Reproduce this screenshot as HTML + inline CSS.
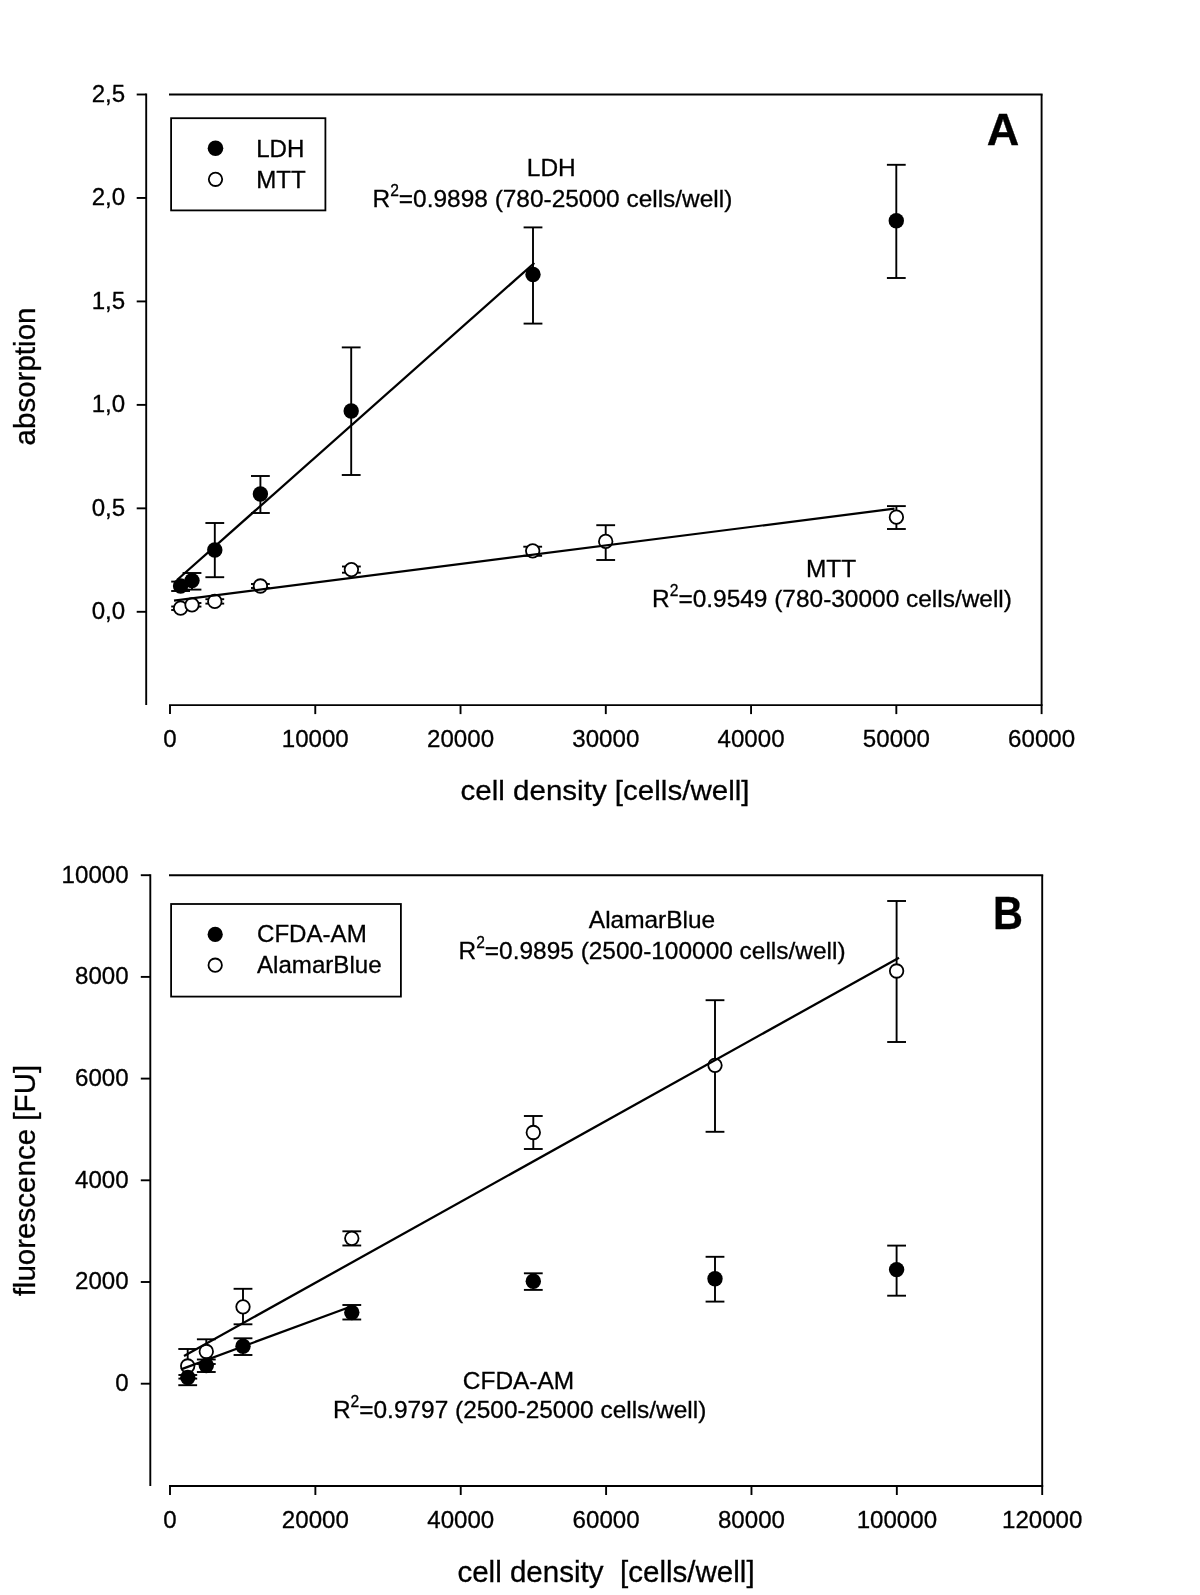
<!DOCTYPE html>
<html lang="en">
<head>
<meta charset="utf-8">
<title>Figure</title>
<style>
html, body { margin: 0; padding: 0; background: #ffffff; }
body { width: 1200px; height: 1595px; overflow: hidden; font-family: "Liberation Sans", sans-serif; }
svg { display: block; filter: grayscale(1) blur(0.35px); }
svg text { font-family: "Liberation Sans", sans-serif; fill: #000; stroke: #000; stroke-width: 0.3px; }
</style>
</head>
<body>
<svg width="1200" height="1595" viewBox="0 0 1200 1595">
<rect x="0" y="0" width="1200" height="1595" fill="#ffffff"/>
<line x1="169.00" y1="94.50" x2="1042.60" y2="94.50" stroke="#000" stroke-width="1.9" stroke-linecap="butt"/>
<line x1="1041.60" y1="94.50" x2="1041.60" y2="705.10" stroke="#000" stroke-width="1.9" stroke-linecap="butt"/>
<line x1="169.00" y1="705.10" x2="1042.60" y2="705.10" stroke="#000" stroke-width="1.9" stroke-linecap="butt"/>
<line x1="146.20" y1="93.50" x2="146.20" y2="705.10" stroke="#000" stroke-width="1.9" stroke-linecap="butt"/>
<line x1="136.70" y1="611.80" x2="146.20" y2="611.80" stroke="#000" stroke-width="1.9" stroke-linecap="butt"/>
<text transform="translate(125.20,619.20) scale(1.0,1.0)" font-size="24.1" text-anchor="end" font-weight="normal" >0,0</text>
<line x1="136.70" y1="508.34" x2="146.20" y2="508.34" stroke="#000" stroke-width="1.9" stroke-linecap="butt"/>
<text transform="translate(125.20,515.74) scale(1.0,1.0)" font-size="24.1" text-anchor="end" font-weight="normal" >0,5</text>
<line x1="136.70" y1="404.88" x2="146.20" y2="404.88" stroke="#000" stroke-width="1.9" stroke-linecap="butt"/>
<text transform="translate(125.20,412.28) scale(1.0,1.0)" font-size="24.1" text-anchor="end" font-weight="normal" >1,0</text>
<line x1="136.70" y1="301.42" x2="146.20" y2="301.42" stroke="#000" stroke-width="1.9" stroke-linecap="butt"/>
<text transform="translate(125.20,308.82) scale(1.0,1.0)" font-size="24.1" text-anchor="end" font-weight="normal" >1,5</text>
<line x1="136.70" y1="197.96" x2="146.20" y2="197.96" stroke="#000" stroke-width="1.9" stroke-linecap="butt"/>
<text transform="translate(125.20,205.36) scale(1.0,1.0)" font-size="24.1" text-anchor="end" font-weight="normal" >2,0</text>
<line x1="136.70" y1="94.50" x2="146.20" y2="94.50" stroke="#000" stroke-width="1.9" stroke-linecap="butt"/>
<text transform="translate(125.20,101.90) scale(1.0,1.0)" font-size="24.1" text-anchor="end" font-weight="normal" >2,5</text>
<line x1="170.00" y1="705.10" x2="170.00" y2="714.10" stroke="#000" stroke-width="1.9" stroke-linecap="butt"/>
<text transform="translate(170.00,747.30) scale(1.0,1.0)" font-size="24.1" text-anchor="middle" font-weight="normal" >0</text>
<line x1="315.27" y1="705.10" x2="315.27" y2="714.10" stroke="#000" stroke-width="1.9" stroke-linecap="butt"/>
<text transform="translate(315.27,747.30) scale(1.0,1.0)" font-size="24.1" text-anchor="middle" font-weight="normal" >10000</text>
<line x1="460.53" y1="705.10" x2="460.53" y2="714.10" stroke="#000" stroke-width="1.9" stroke-linecap="butt"/>
<text transform="translate(460.53,747.30) scale(1.0,1.0)" font-size="24.1" text-anchor="middle" font-weight="normal" >20000</text>
<line x1="605.80" y1="705.10" x2="605.80" y2="714.10" stroke="#000" stroke-width="1.9" stroke-linecap="butt"/>
<text transform="translate(605.80,747.30) scale(1.0,1.0)" font-size="24.1" text-anchor="middle" font-weight="normal" >30000</text>
<line x1="751.07" y1="705.10" x2="751.07" y2="714.10" stroke="#000" stroke-width="1.9" stroke-linecap="butt"/>
<text transform="translate(751.07,747.30) scale(1.0,1.0)" font-size="24.1" text-anchor="middle" font-weight="normal" >40000</text>
<line x1="896.33" y1="705.10" x2="896.33" y2="714.10" stroke="#000" stroke-width="1.9" stroke-linecap="butt"/>
<text transform="translate(896.33,747.30) scale(1.0,1.0)" font-size="24.1" text-anchor="middle" font-weight="normal" >50000</text>
<line x1="1041.60" y1="705.10" x2="1041.60" y2="714.10" stroke="#000" stroke-width="1.9" stroke-linecap="butt"/>
<text transform="translate(1041.60,747.30) scale(1.0,1.0)" font-size="24.1" text-anchor="middle" font-weight="normal" >60000</text>
<text transform="translate(605.00,800.40) scale(1.0,0.95)" font-size="29.55" text-anchor="middle" font-weight="normal" >cell density [cells/well]</text>
<text transform="translate(35.3,376.5) rotate(-90)" font-size="29.55" text-anchor="middle">absorption</text>
<rect x="171.1" y="118.2" width="154.3" height="92.2" fill="#fff" stroke="#000" stroke-width="1.8"/>
<circle cx="215.50" cy="148.30" r="7.8" fill="#000"/>
<circle cx="215.50" cy="179.30" r="6.7" fill="#fff" stroke="#000" stroke-width="1.8"/>
<text transform="translate(256.20,156.80) scale(1.0,1.0)" font-size="24.1" text-anchor="start" font-weight="normal" >LDH</text>
<text transform="translate(256.20,187.60) scale(1.0,1.0)" font-size="24.1" text-anchor="start" font-weight="normal" >MTT</text>
<text transform="translate(1003.00,145.00) scale(1.06,1.06)" font-size="42.5" text-anchor="middle" font-weight="bold" >A</text>
<text transform="translate(551.30,176.40) scale(1.0,1.0)" font-size="24.45" text-anchor="middle" font-weight="normal" >LDH</text>
<text transform="translate(552.40,207.20) scale(1.0,1.0)" font-size="24.45" text-anchor="middle">R<tspan font-size="15.6" dy="-11.1">2</tspan><tspan dy="11.1">=0.9898 (780-25000 cells/well)</tspan></text>
<text transform="translate(831.00,576.70) scale(1.0,1.0)" font-size="24.45" text-anchor="middle" font-weight="normal" >MTT</text>
<text transform="translate(832.00,607.20) scale(1.0,1.0)" font-size="24.45" text-anchor="middle">R<tspan font-size="15.6" dy="-11.1">2</tspan><tspan dy="11.1">=0.9549 (780-30000 cells/well)</tspan></text>
<line x1="180.60" y1="606.50" x2="180.60" y2="610.00" stroke="#000" stroke-width="1.9" stroke-linecap="butt"/>
<line x1="171.20" y1="606.50" x2="190.00" y2="606.50" stroke="#000" stroke-width="1.9" stroke-linecap="butt"/>
<line x1="171.20" y1="610.00" x2="190.00" y2="610.00" stroke="#000" stroke-width="1.9" stroke-linecap="butt"/>
<line x1="192.00" y1="603.00" x2="192.00" y2="606.60" stroke="#000" stroke-width="1.9" stroke-linecap="butt"/>
<line x1="182.60" y1="603.00" x2="201.40" y2="603.00" stroke="#000" stroke-width="1.9" stroke-linecap="butt"/>
<line x1="182.60" y1="606.60" x2="201.40" y2="606.60" stroke="#000" stroke-width="1.9" stroke-linecap="butt"/>
<line x1="214.80" y1="599.20" x2="214.80" y2="603.60" stroke="#000" stroke-width="1.9" stroke-linecap="butt"/>
<line x1="205.40" y1="599.20" x2="224.20" y2="599.20" stroke="#000" stroke-width="1.9" stroke-linecap="butt"/>
<line x1="205.40" y1="603.60" x2="224.20" y2="603.60" stroke="#000" stroke-width="1.9" stroke-linecap="butt"/>
<line x1="260.40" y1="584.00" x2="260.40" y2="588.00" stroke="#000" stroke-width="1.9" stroke-linecap="butt"/>
<line x1="251.00" y1="584.00" x2="269.80" y2="584.00" stroke="#000" stroke-width="1.9" stroke-linecap="butt"/>
<line x1="251.00" y1="588.00" x2="269.80" y2="588.00" stroke="#000" stroke-width="1.9" stroke-linecap="butt"/>
<line x1="351.40" y1="566.50" x2="351.40" y2="572.70" stroke="#000" stroke-width="1.9" stroke-linecap="butt"/>
<line x1="342.00" y1="566.50" x2="360.80" y2="566.50" stroke="#000" stroke-width="1.9" stroke-linecap="butt"/>
<line x1="342.00" y1="572.70" x2="360.80" y2="572.70" stroke="#000" stroke-width="1.9" stroke-linecap="butt"/>
<line x1="532.70" y1="546.70" x2="532.70" y2="555.80" stroke="#000" stroke-width="1.9" stroke-linecap="butt"/>
<line x1="523.30" y1="546.70" x2="542.10" y2="546.70" stroke="#000" stroke-width="1.9" stroke-linecap="butt"/>
<line x1="523.30" y1="555.80" x2="542.10" y2="555.80" stroke="#000" stroke-width="1.9" stroke-linecap="butt"/>
<line x1="605.70" y1="525.20" x2="605.70" y2="560.00" stroke="#000" stroke-width="1.9" stroke-linecap="butt"/>
<line x1="596.30" y1="525.20" x2="615.10" y2="525.20" stroke="#000" stroke-width="1.9" stroke-linecap="butt"/>
<line x1="596.30" y1="560.00" x2="615.10" y2="560.00" stroke="#000" stroke-width="1.9" stroke-linecap="butt"/>
<line x1="896.40" y1="506.10" x2="896.40" y2="529.00" stroke="#000" stroke-width="1.9" stroke-linecap="butt"/>
<line x1="887.00" y1="506.10" x2="905.80" y2="506.10" stroke="#000" stroke-width="1.9" stroke-linecap="butt"/>
<line x1="887.00" y1="529.00" x2="905.80" y2="529.00" stroke="#000" stroke-width="1.9" stroke-linecap="butt"/>
<circle cx="180.60" cy="608.20" r="6.75" fill="#fff" stroke="#000" stroke-width="1.8"/>
<circle cx="192.00" cy="604.80" r="6.75" fill="#fff" stroke="#000" stroke-width="1.8"/>
<circle cx="214.80" cy="601.40" r="6.75" fill="#fff" stroke="#000" stroke-width="1.8"/>
<circle cx="260.40" cy="586.00" r="6.75" fill="#fff" stroke="#000" stroke-width="1.8"/>
<circle cx="351.40" cy="569.60" r="6.75" fill="#fff" stroke="#000" stroke-width="1.8"/>
<circle cx="532.70" cy="550.80" r="6.75" fill="#fff" stroke="#000" stroke-width="1.8"/>
<circle cx="605.70" cy="541.40" r="6.75" fill="#fff" stroke="#000" stroke-width="1.8"/>
<circle cx="896.40" cy="517.20" r="6.75" fill="#fff" stroke="#000" stroke-width="1.8"/>
<line x1="174.00" y1="600.60" x2="894.50" y2="508.60" stroke="#000" stroke-width="2.2" stroke-linecap="butt"/>
<line x1="180.60" y1="581.60" x2="180.60" y2="591.00" stroke="#000" stroke-width="1.9" stroke-linecap="butt"/>
<line x1="171.20" y1="581.60" x2="190.00" y2="581.60" stroke="#000" stroke-width="1.9" stroke-linecap="butt"/>
<line x1="171.20" y1="591.00" x2="190.00" y2="591.00" stroke="#000" stroke-width="1.9" stroke-linecap="butt"/>
<line x1="192.00" y1="573.00" x2="192.00" y2="589.60" stroke="#000" stroke-width="1.9" stroke-linecap="butt"/>
<line x1="182.60" y1="573.00" x2="201.40" y2="573.00" stroke="#000" stroke-width="1.9" stroke-linecap="butt"/>
<line x1="182.60" y1="589.60" x2="201.40" y2="589.60" stroke="#000" stroke-width="1.9" stroke-linecap="butt"/>
<line x1="214.80" y1="523.00" x2="214.80" y2="577.20" stroke="#000" stroke-width="1.9" stroke-linecap="butt"/>
<line x1="205.40" y1="523.00" x2="224.20" y2="523.00" stroke="#000" stroke-width="1.9" stroke-linecap="butt"/>
<line x1="205.40" y1="577.20" x2="224.20" y2="577.20" stroke="#000" stroke-width="1.9" stroke-linecap="butt"/>
<line x1="260.40" y1="476.00" x2="260.40" y2="513.00" stroke="#000" stroke-width="1.9" stroke-linecap="butt"/>
<line x1="251.00" y1="476.00" x2="269.80" y2="476.00" stroke="#000" stroke-width="1.9" stroke-linecap="butt"/>
<line x1="251.00" y1="513.00" x2="269.80" y2="513.00" stroke="#000" stroke-width="1.9" stroke-linecap="butt"/>
<line x1="351.20" y1="347.40" x2="351.20" y2="475.00" stroke="#000" stroke-width="1.9" stroke-linecap="butt"/>
<line x1="341.80" y1="347.40" x2="360.60" y2="347.40" stroke="#000" stroke-width="1.9" stroke-linecap="butt"/>
<line x1="341.80" y1="475.00" x2="360.60" y2="475.00" stroke="#000" stroke-width="1.9" stroke-linecap="butt"/>
<line x1="533.00" y1="227.40" x2="533.00" y2="323.60" stroke="#000" stroke-width="1.9" stroke-linecap="butt"/>
<line x1="523.60" y1="227.40" x2="542.40" y2="227.40" stroke="#000" stroke-width="1.9" stroke-linecap="butt"/>
<line x1="523.60" y1="323.60" x2="542.40" y2="323.60" stroke="#000" stroke-width="1.9" stroke-linecap="butt"/>
<line x1="896.30" y1="164.80" x2="896.30" y2="278.00" stroke="#000" stroke-width="1.9" stroke-linecap="butt"/>
<line x1="886.90" y1="164.80" x2="905.70" y2="164.80" stroke="#000" stroke-width="1.9" stroke-linecap="butt"/>
<line x1="886.90" y1="278.00" x2="905.70" y2="278.00" stroke="#000" stroke-width="1.9" stroke-linecap="butt"/>
<circle cx="180.60" cy="586.00" r="7.7" fill="#000"/>
<circle cx="192.00" cy="580.60" r="7.7" fill="#000"/>
<circle cx="214.80" cy="550.00" r="7.7" fill="#000"/>
<circle cx="260.40" cy="494.00" r="7.7" fill="#000"/>
<circle cx="351.20" cy="411.00" r="7.7" fill="#000"/>
<circle cx="533.00" cy="274.50" r="7.7" fill="#000"/>
<circle cx="896.30" cy="220.70" r="7.7" fill="#000"/>
<line x1="177.00" y1="580.00" x2="534.30" y2="263.00" stroke="#000" stroke-width="2.3" stroke-linecap="butt"/>
<line x1="169.00" y1="875.20" x2="1043.20" y2="875.20" stroke="#000" stroke-width="1.9" stroke-linecap="butt"/>
<line x1="1042.20" y1="875.20" x2="1042.20" y2="1486.00" stroke="#000" stroke-width="1.9" stroke-linecap="butt"/>
<line x1="169.00" y1="1486.00" x2="1043.20" y2="1486.00" stroke="#000" stroke-width="1.9" stroke-linecap="butt"/>
<line x1="150.30" y1="874.20" x2="150.30" y2="1486.00" stroke="#000" stroke-width="1.9" stroke-linecap="butt"/>
<line x1="140.80" y1="1383.70" x2="150.30" y2="1383.70" stroke="#000" stroke-width="1.9" stroke-linecap="butt"/>
<text transform="translate(128.60,1391.10) scale(1.0,1.0)" font-size="24.1" text-anchor="end" font-weight="normal" >0</text>
<line x1="140.80" y1="1282.00" x2="150.30" y2="1282.00" stroke="#000" stroke-width="1.9" stroke-linecap="butt"/>
<text transform="translate(128.60,1289.40) scale(1.0,1.0)" font-size="24.1" text-anchor="end" font-weight="normal" >2000</text>
<line x1="140.80" y1="1180.30" x2="150.30" y2="1180.30" stroke="#000" stroke-width="1.9" stroke-linecap="butt"/>
<text transform="translate(128.60,1187.70) scale(1.0,1.0)" font-size="24.1" text-anchor="end" font-weight="normal" >4000</text>
<line x1="140.80" y1="1078.60" x2="150.30" y2="1078.60" stroke="#000" stroke-width="1.9" stroke-linecap="butt"/>
<text transform="translate(128.60,1086.00) scale(1.0,1.0)" font-size="24.1" text-anchor="end" font-weight="normal" >6000</text>
<line x1="140.80" y1="976.90" x2="150.30" y2="976.90" stroke="#000" stroke-width="1.9" stroke-linecap="butt"/>
<text transform="translate(128.60,984.30) scale(1.0,1.0)" font-size="24.1" text-anchor="end" font-weight="normal" >8000</text>
<line x1="140.80" y1="875.20" x2="150.30" y2="875.20" stroke="#000" stroke-width="1.9" stroke-linecap="butt"/>
<text transform="translate(128.60,882.60) scale(1.0,1.0)" font-size="24.1" text-anchor="end" font-weight="normal" >10000</text>
<line x1="170.00" y1="1486.00" x2="170.00" y2="1495.00" stroke="#000" stroke-width="1.9" stroke-linecap="butt"/>
<text transform="translate(170.00,1527.80) scale(1.0,1.0)" font-size="24.1" text-anchor="middle" font-weight="normal" >0</text>
<line x1="315.37" y1="1486.00" x2="315.37" y2="1495.00" stroke="#000" stroke-width="1.9" stroke-linecap="butt"/>
<text transform="translate(315.37,1527.80) scale(1.0,1.0)" font-size="24.1" text-anchor="middle" font-weight="normal" >20000</text>
<line x1="460.73" y1="1486.00" x2="460.73" y2="1495.00" stroke="#000" stroke-width="1.9" stroke-linecap="butt"/>
<text transform="translate(460.73,1527.80) scale(1.0,1.0)" font-size="24.1" text-anchor="middle" font-weight="normal" >40000</text>
<line x1="606.10" y1="1486.00" x2="606.10" y2="1495.00" stroke="#000" stroke-width="1.9" stroke-linecap="butt"/>
<text transform="translate(606.10,1527.80) scale(1.0,1.0)" font-size="24.1" text-anchor="middle" font-weight="normal" >60000</text>
<line x1="751.47" y1="1486.00" x2="751.47" y2="1495.00" stroke="#000" stroke-width="1.9" stroke-linecap="butt"/>
<text transform="translate(751.47,1527.80) scale(1.0,1.0)" font-size="24.1" text-anchor="middle" font-weight="normal" >80000</text>
<line x1="896.83" y1="1486.00" x2="896.83" y2="1495.00" stroke="#000" stroke-width="1.9" stroke-linecap="butt"/>
<text transform="translate(896.83,1527.80) scale(1.0,1.0)" font-size="24.1" text-anchor="middle" font-weight="normal" >100000</text>
<line x1="1042.20" y1="1486.00" x2="1042.20" y2="1495.00" stroke="#000" stroke-width="1.9" stroke-linecap="butt"/>
<text transform="translate(1042.20,1527.80) scale(1.0,1.0)" font-size="24.1" text-anchor="middle" font-weight="normal" >120000</text>
<text x="606" y="1581.6" font-size="29.55" text-anchor="middle" xml:space="preserve">cell density  [cells/well]</text>
<text transform="translate(35.3,1180.6) rotate(-90)" font-size="29.55" text-anchor="middle">fluorescence [FU]</text>
<rect x="171.1" y="904.0" width="229.8" height="92.6" fill="#fff" stroke="#000" stroke-width="1.8"/>
<circle cx="215.20" cy="934.40" r="7.6" fill="#000"/>
<circle cx="215.20" cy="965.20" r="6.7" fill="#fff" stroke="#000" stroke-width="1.8"/>
<text transform="translate(257.00,942.30) scale(1.0,1.0)" font-size="24.1" text-anchor="start" font-weight="normal" >CFDA-AM</text>
<text transform="translate(257.00,973.20) scale(1.0,1.0)" font-size="24.1" text-anchor="start" font-weight="normal" >AlamarBlue</text>
<text transform="translate(1008.00,929.30) scale(1.0,1.11)" font-size="41.5" text-anchor="middle" font-weight="bold" >B</text>
<text transform="translate(652.00,927.80) scale(1.0,1.0)" font-size="24.45" text-anchor="middle" font-weight="normal" >AlamarBlue</text>
<text transform="translate(652.00,958.80) scale(1.0,1.0)" font-size="24.45" text-anchor="middle">R<tspan font-size="15.6" dy="-11.1">2</tspan><tspan dy="11.1">=0.9895 (2500-100000 cells/well)</tspan></text>
<text transform="translate(518.50,1389.20) scale(1.0,1.0)" font-size="24.45" text-anchor="middle" font-weight="normal" >CFDA-AM</text>
<text transform="translate(519.60,1417.80) scale(1.0,1.0)" font-size="24.45" text-anchor="middle">R<tspan font-size="15.6" dy="-11.1">2</tspan><tspan dy="11.1">=0.9797 (2500-25000 cells/well)</tspan></text>
<line x1="187.70" y1="1349.00" x2="187.70" y2="1385.20" stroke="#000" stroke-width="1.9" stroke-linecap="butt"/>
<line x1="178.30" y1="1349.00" x2="197.10" y2="1349.00" stroke="#000" stroke-width="1.9" stroke-linecap="butt"/>
<line x1="178.30" y1="1385.20" x2="197.10" y2="1385.20" stroke="#000" stroke-width="1.9" stroke-linecap="butt"/>
<line x1="206.30" y1="1339.30" x2="206.30" y2="1364.00" stroke="#000" stroke-width="1.9" stroke-linecap="butt"/>
<line x1="196.90" y1="1339.30" x2="215.70" y2="1339.30" stroke="#000" stroke-width="1.9" stroke-linecap="butt"/>
<line x1="196.90" y1="1364.00" x2="215.70" y2="1364.00" stroke="#000" stroke-width="1.9" stroke-linecap="butt"/>
<line x1="243.00" y1="1288.80" x2="243.00" y2="1324.30" stroke="#000" stroke-width="1.9" stroke-linecap="butt"/>
<line x1="233.60" y1="1288.80" x2="252.40" y2="1288.80" stroke="#000" stroke-width="1.9" stroke-linecap="butt"/>
<line x1="233.60" y1="1324.30" x2="252.40" y2="1324.30" stroke="#000" stroke-width="1.9" stroke-linecap="butt"/>
<line x1="351.80" y1="1231.30" x2="351.80" y2="1245.50" stroke="#000" stroke-width="1.9" stroke-linecap="butt"/>
<line x1="342.40" y1="1231.30" x2="361.20" y2="1231.30" stroke="#000" stroke-width="1.9" stroke-linecap="butt"/>
<line x1="342.40" y1="1245.50" x2="361.20" y2="1245.50" stroke="#000" stroke-width="1.9" stroke-linecap="butt"/>
<line x1="533.30" y1="1116.00" x2="533.30" y2="1149.00" stroke="#000" stroke-width="1.9" stroke-linecap="butt"/>
<line x1="523.90" y1="1116.00" x2="542.70" y2="1116.00" stroke="#000" stroke-width="1.9" stroke-linecap="butt"/>
<line x1="523.90" y1="1149.00" x2="542.70" y2="1149.00" stroke="#000" stroke-width="1.9" stroke-linecap="butt"/>
<line x1="715.00" y1="1000.20" x2="715.00" y2="1131.80" stroke="#000" stroke-width="1.9" stroke-linecap="butt"/>
<line x1="705.60" y1="1000.20" x2="724.40" y2="1000.20" stroke="#000" stroke-width="1.9" stroke-linecap="butt"/>
<line x1="705.60" y1="1131.80" x2="724.40" y2="1131.80" stroke="#000" stroke-width="1.9" stroke-linecap="butt"/>
<line x1="896.60" y1="901.00" x2="896.60" y2="1042.00" stroke="#000" stroke-width="1.9" stroke-linecap="butt"/>
<line x1="887.20" y1="901.00" x2="906.00" y2="901.00" stroke="#000" stroke-width="1.9" stroke-linecap="butt"/>
<line x1="887.20" y1="1042.00" x2="906.00" y2="1042.00" stroke="#000" stroke-width="1.9" stroke-linecap="butt"/>
<circle cx="187.70" cy="1366.00" r="6.75" fill="#fff" stroke="#000" stroke-width="1.8"/>
<circle cx="206.30" cy="1351.50" r="6.75" fill="#fff" stroke="#000" stroke-width="1.8"/>
<circle cx="243.00" cy="1306.80" r="6.75" fill="#fff" stroke="#000" stroke-width="1.8"/>
<circle cx="351.80" cy="1238.30" r="6.75" fill="#fff" stroke="#000" stroke-width="1.8"/>
<circle cx="533.30" cy="1132.50" r="6.75" fill="#fff" stroke="#000" stroke-width="1.8"/>
<circle cx="715.00" cy="1065.30" r="6.75" fill="#fff" stroke="#000" stroke-width="1.8"/>
<circle cx="896.60" cy="971.00" r="6.75" fill="#fff" stroke="#000" stroke-width="1.8"/>
<line x1="184.00" y1="1356.00" x2="899.00" y2="957.70" stroke="#000" stroke-width="2.3" stroke-linecap="butt"/>
<line x1="187.80" y1="1375.00" x2="187.80" y2="1378.60" stroke="#000" stroke-width="1.9" stroke-linecap="butt"/>
<line x1="178.40" y1="1375.00" x2="197.20" y2="1375.00" stroke="#000" stroke-width="1.9" stroke-linecap="butt"/>
<line x1="178.40" y1="1378.60" x2="197.20" y2="1378.60" stroke="#000" stroke-width="1.9" stroke-linecap="butt"/>
<line x1="206.30" y1="1359.50" x2="206.30" y2="1372.00" stroke="#000" stroke-width="1.9" stroke-linecap="butt"/>
<line x1="196.90" y1="1359.50" x2="215.70" y2="1359.50" stroke="#000" stroke-width="1.9" stroke-linecap="butt"/>
<line x1="196.90" y1="1372.00" x2="215.70" y2="1372.00" stroke="#000" stroke-width="1.9" stroke-linecap="butt"/>
<line x1="243.00" y1="1338.30" x2="243.00" y2="1355.00" stroke="#000" stroke-width="1.9" stroke-linecap="butt"/>
<line x1="233.60" y1="1338.30" x2="252.40" y2="1338.30" stroke="#000" stroke-width="1.9" stroke-linecap="butt"/>
<line x1="233.60" y1="1355.00" x2="252.40" y2="1355.00" stroke="#000" stroke-width="1.9" stroke-linecap="butt"/>
<line x1="351.80" y1="1305.00" x2="351.80" y2="1319.50" stroke="#000" stroke-width="1.9" stroke-linecap="butt"/>
<line x1="342.40" y1="1305.00" x2="361.20" y2="1305.00" stroke="#000" stroke-width="1.9" stroke-linecap="butt"/>
<line x1="342.40" y1="1319.50" x2="361.20" y2="1319.50" stroke="#000" stroke-width="1.9" stroke-linecap="butt"/>
<line x1="533.30" y1="1273.30" x2="533.30" y2="1289.90" stroke="#000" stroke-width="1.9" stroke-linecap="butt"/>
<line x1="523.90" y1="1273.30" x2="542.70" y2="1273.30" stroke="#000" stroke-width="1.9" stroke-linecap="butt"/>
<line x1="523.90" y1="1289.90" x2="542.70" y2="1289.90" stroke="#000" stroke-width="1.9" stroke-linecap="butt"/>
<line x1="715.00" y1="1256.80" x2="715.00" y2="1301.60" stroke="#000" stroke-width="1.9" stroke-linecap="butt"/>
<line x1="705.60" y1="1256.80" x2="724.40" y2="1256.80" stroke="#000" stroke-width="1.9" stroke-linecap="butt"/>
<line x1="705.60" y1="1301.60" x2="724.40" y2="1301.60" stroke="#000" stroke-width="1.9" stroke-linecap="butt"/>
<line x1="896.60" y1="1245.60" x2="896.60" y2="1295.70" stroke="#000" stroke-width="1.9" stroke-linecap="butt"/>
<line x1="887.20" y1="1245.60" x2="906.00" y2="1245.60" stroke="#000" stroke-width="1.9" stroke-linecap="butt"/>
<line x1="887.20" y1="1295.70" x2="906.00" y2="1295.70" stroke="#000" stroke-width="1.9" stroke-linecap="butt"/>
<circle cx="187.80" cy="1377.50" r="7.7" fill="#000"/>
<circle cx="206.30" cy="1365.50" r="7.7" fill="#000"/>
<circle cx="243.00" cy="1346.30" r="7.7" fill="#000"/>
<circle cx="351.80" cy="1312.50" r="7.7" fill="#000"/>
<circle cx="533.30" cy="1281.30" r="7.7" fill="#000"/>
<circle cx="715.00" cy="1278.70" r="7.7" fill="#000"/>
<circle cx="896.60" cy="1269.60" r="7.7" fill="#000"/>
<line x1="181.00" y1="1369.30" x2="352.50" y2="1306.00" stroke="#000" stroke-width="2.3" stroke-linecap="butt"/>
</svg>
</body>
</html>
